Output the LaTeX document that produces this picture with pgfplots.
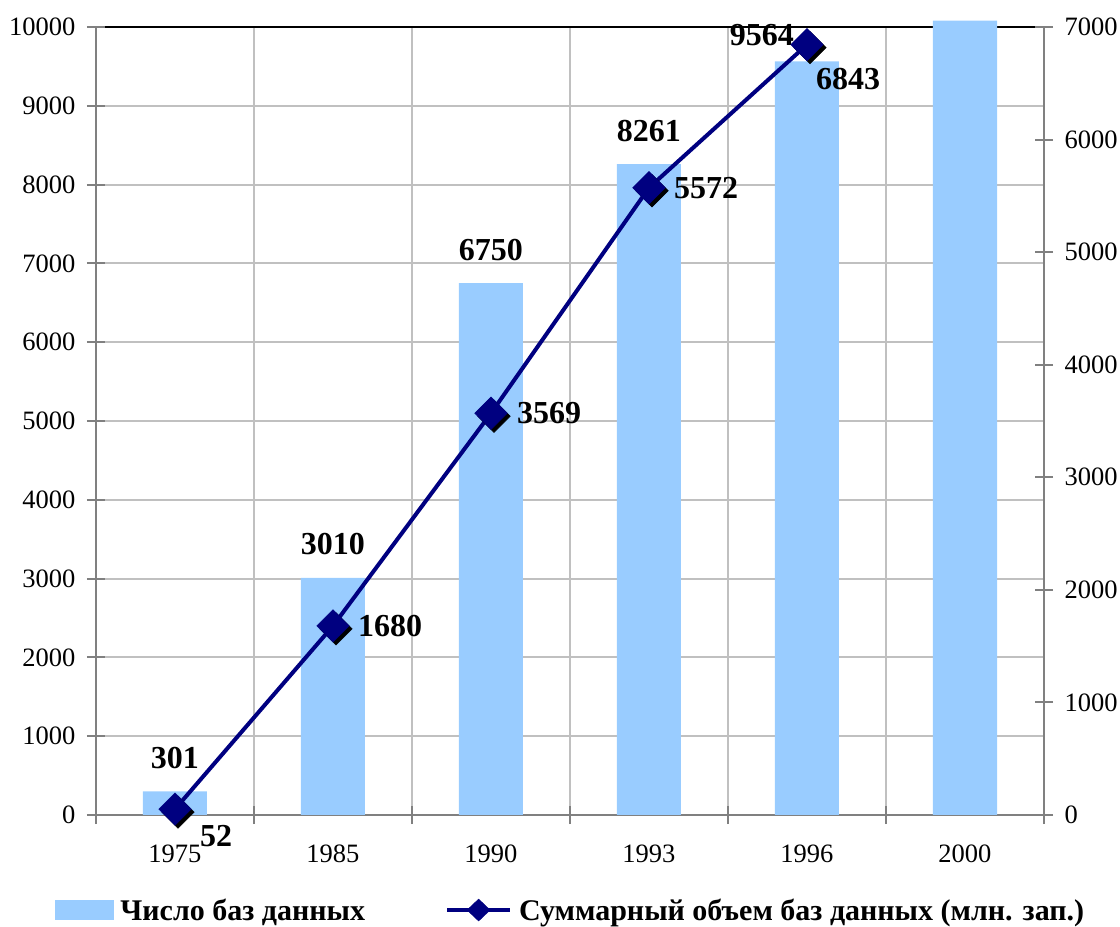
\documentclass[border=0pt]{standalone}
\usepackage{fontspec}
\setmainfont{Liberation Serif}
\usepackage{pgfplots}
\pgfplotsset{compat=1.18}
\definecolor{barblue}{RGB}{153,204,255}
\definecolor{navyline}{RGB}{0,0,128}
\definecolor{gridgrey}{RGB}{192,192,192}
\definecolor{axisgrey}{RGB}{128,128,128}

\pgfplotsset{
  base/.style={
    at={(96pt,112pt)}, anchor=south west,
    scale only axis, width=948pt, height=788pt,
    xmin=-0.5, xmax=5.5,
    tick align=center, major tick length=18pt,
    tick style={axisgrey, line width=2pt},
    axis line style={axisgrey, line width=2pt},
    tick label style={font=\fontsize{26.5}{30}\selectfont},
    scaled y ticks=false,
    /pgf/number format/assume math mode=true,
    /pgf/number format/1000 sep={},
  },
}
\tikzset{lbl/.style={font=\bfseries\fontsize{32}{36}\selectfont, inner sep=0pt}}

\begin{document}
\begin{tikzpicture}
\useasboundingbox (0,0) rectangle (1120pt,927pt);
% bars: number of databases (left axis)
\begin{axis}[base,
  axis x line*=bottom, axis y line*=left,
  ymin=0, ymax=10000,
  ytick={0,1000,...,9000},
  extra y ticks={10000},
  extra y tick style={grid=major, major grid style={black, line width=2pt}},
  xtick={-0.5,0.5,1.5,2.5,3.5,4.5,5.5},
  x tick label as interval,
  xticklabels={1975,1985,1990,1993,1996,2000},
  xticklabel style={yshift=-17pt},
  yticklabel style={xshift=-8pt},
  grid=major, major grid style={gridgrey, line width=2pt},
  clip=false,
]
\addplot[ybar, bar width=64pt, fill=barblue, draw=none]
  coordinates {(0,301) (1,3010) (2,6750) (3,8261) (4,9564) (5,10080)};
\node[lbl, anchor=base, yshift=23pt] at (axis cs:0,301) {301};
\node[lbl, anchor=base, yshift=23pt] at (axis cs:1,3010) {3010};
\node[lbl, anchor=base, yshift=23pt] at (axis cs:2,6750) {6750};
\node[lbl, anchor=base, yshift=23pt] at (axis cs:3,8261) {8261};
\node[lbl, anchor=base, xshift=-45pt, yshift=16pt] at (axis cs:4,9564) {9564};
\end{axis}
% line: total volume (right axis)
\begin{axis}[base,
  axis x line=none, axis y line*=right,
  ymin=0, ymax=7000,
  ytick={0,1000,...,7000},
  yticklabel style={xshift=8pt},
  clip=false,
  legend columns=2,
  legend style={draw=none, fill=none, inner sep=0pt, outer sep=0pt,
    at={(-0.0432,-0.1206)}, anchor=west,
    nodes={inner sep=0pt, anchor=west, font=\bfseries\fontsize{30}{34}\selectfont},
    /tikz/every odd column/.append style={column sep=7pt},
    /tikz/every even column/.append style={column sep=80pt}},
]
\addlegendimage{legend image code/.code={\fill[barblue] (0pt,-9pt) rectangle (58pt,10pt);}}
\addlegendentry{Число баз данных}
\addplot[navyline, line width=4pt, forget plot]
  coordinates {(0,52) (1,1680) (2,3569) (3,5572) (4,6843)};
\addplot[only marks, mark=square*, mark size=11.5pt, forget plot,
  mark options={xshift=3pt, yshift=-3pt, rotate=45, black}]
  coordinates {(0,52) (1,1680) (2,3569) (3,5572) (4,6843)};
\addplot[only marks, mark=square*, mark size=11.5pt,
  mark options={rotate=45, navyline},
  legend image code/.code={
    \draw[navyline, line width=4pt] (0pt,0pt) -- (63pt,0pt);
    \fill[navyline] (31.5pt,11pt) -- (43pt,0pt) -- (31.5pt,-11pt) -- (20pt,0pt) -- cycle;}]
  coordinates {(0,52) (1,1680) (2,3569) (3,5572) (4,6843)};
\addlegendentry{Суммарный объем баз данных (млн. зап.)}
\node[lbl, anchor=west, xshift=25pt, yshift=-27pt] at (axis cs:0,52) {52};
\node[lbl, anchor=west, xshift=25pt] at (axis cs:1,1680) {1680};
\node[lbl, anchor=west, xshift=26pt] at (axis cs:2,3569) {3569};
\node[lbl, anchor=west, xshift=25pt] at (axis cs:3,5572) {5572};
\node[lbl, anchor=west, xshift=9pt, yshift=-34pt] at (axis cs:4,6843) {6843};
\end{axis}
\end{tikzpicture}
\end{document}
